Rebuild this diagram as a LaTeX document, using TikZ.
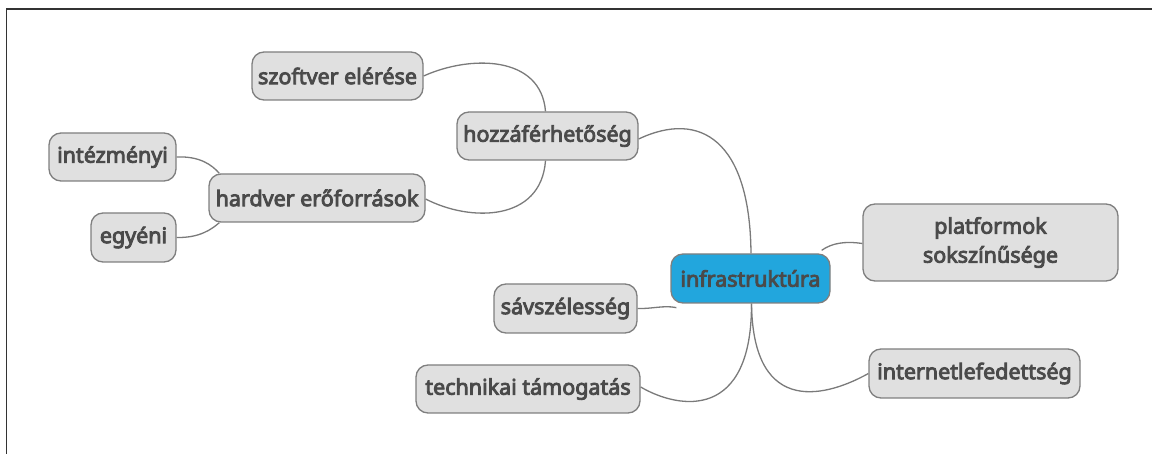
\documentclass[tikz,border=0pt]{standalone}
\usepackage{fontspec}
\setmainfont{Noto Sans}[AutoFakeBold=4]
\definecolor{nodefill}{HTML}{E0E0E0}
\definecolor{nodeedge}{HTML}{7F7F7F}
\definecolor{txt}{HTML}{4A4A4A}
\definecolor{rootfill}{HTML}{22A6DD}
\definecolor{link}{HTML}{7A7A7A}
\begin{document}
\begin{tikzpicture}[x=1pt,y=-1pt,
  box/.style={draw=nodeedge, line width=1.3pt, fill=nodefill, rounded corners=12pt,
    text=txt, font=\fontsize{21.5}{29}\selectfont\bfseries, inner sep=0pt, align=center},
  root/.style={box, fill=rootfill},
  link/.style={draw=link, line width=1.3pt}]
\useasboundingbox (0,0) rectangle (1152,454);
\draw[line width=1.5pt, color=black!80] (6.5,454) -- (6.5,9) -- (1152,9);
% nodes
\node[root, minimum width=159pt, minimum height=49pt] (root) at (750.5,278.5) {infrastruktúra};
\node[box, minimum width=181pt, minimum height=48pt] (hozza) at (547.5,136) {hozzáférhetőség};
\node[box, minimum width=171pt, minimum height=48pt] (szoft) at (337.5,76) {szoftver elérése};
\node[box, minimum width=216pt, minimum height=48pt] (hard) at (317,198) {hardver erőforrások};
\node[box, minimum width=127pt, minimum height=48pt] (intez) at (112.5,157) {intézményi};
\node[box, minimum width=85pt, minimum height=49pt] (egyeni) at (133.5,237.5) {egyéni};
\node[box, minimum width=255pt, minimum height=77pt] (platf) at (990.5,242.5) {platformok\\sokszínűsége};
\node[box, minimum width=143pt, minimum height=49pt] (savsz) at (565.5,308.5) {sávszélesség};
\node[box, minimum width=224pt, minimum height=48pt] (techn) at (528,389) {technikai támogatás};
\node[box, minimum width=211pt, minimum height=49pt] (inet) at (974.5,373.5) {internetlefedettség};
% connectors
\coordinate (rtop) at ([xshift=0.5pt]root.north);
\coordinate (rbot) at ([xshift=1pt]root.south);
\coordinate (he) at ([yshift=-3pt]hozza.east);
\draw[link] (he) .. controls (700,110) and (750,140) .. (rtop);
\draw[link] ([xshift=-2pt]hozza.north) .. controls (541,55) and (470,55) .. (szoft.east);
\draw[link] ([xshift=-2pt]hozza.south) .. controls (541,222) and (470,222) .. ([yshift=-1pt]hard.east);
\draw[link] (intez.east) .. controls (200,156) and (212,165) .. ([xshift=11pt]hard.north west);
\draw[link] (egyeni.east) .. controls (200,238) and (212,229) .. ([xshift=11pt]hard.south west);
\draw[link] ([xshift=6pt,yshift=-4pt]root.south west) .. controls (664,305) and (652,309) .. (savsz.east);
\draw[link] (rbot) .. controls (752,420) and (680,410) .. ([yshift=2pt]techn.east);
\draw[link] (rbot) .. controls (753,420) and (830,395) .. (inet.west);
\draw[link] ([xshift=-9pt,yshift=3pt]root.north east) .. controls (832,243) and (845,241) .. ([yshift=-1pt]platf.west);
\end{tikzpicture}
\end{document}
